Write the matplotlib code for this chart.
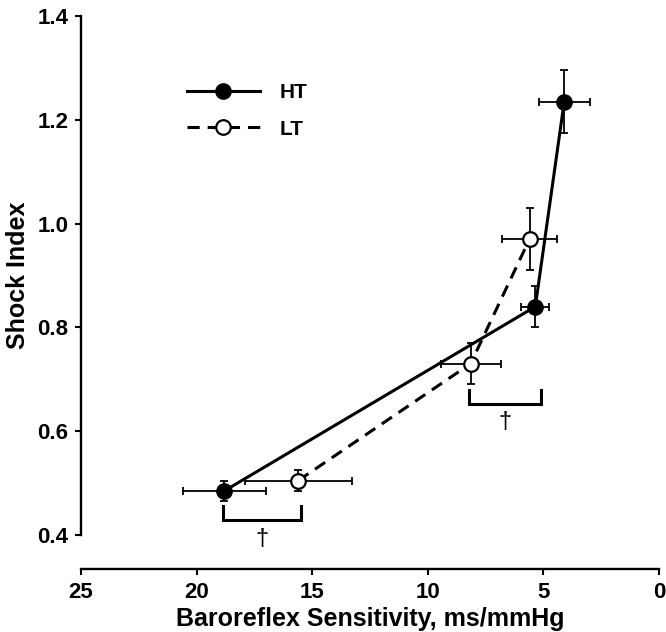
import matplotlib.pyplot as plt

plt.rcParams['font.family'] = ['Liberation Sans', 'DejaVu Sans']
plt.rcParams['font.weight'] = 'bold'

# HT group
ht_x = [18.8, 5.35, 4.1]
ht_y = [0.485, 0.84, 1.235]
ht_xerr = [1.8, 0.6, 1.1]
ht_yerr = [0.02, 0.04, 0.06]

# LT group
lt_x = [15.6, 8.15, 5.6]
lt_y = [0.505, 0.73, 0.97]
lt_xerr = [2.3, 1.3, 1.2]
lt_yerr = [0.02, 0.04, 0.06]

# significance brackets (x from, x to, y top)
brackets = [(18.85, 15.5, 0.455), (8.2, 5.1, 0.68)]
dagger_y = [0.393, 0.617]

fig = plt.figure(figsize=(6.66, 6.32), dpi=100)
ax = fig.add_axes([81/666, 1 - 569/632, 578/666, 553/632])

lw = 2.2
ax.errorbar(ht_x, ht_y, xerr=ht_xerr, yerr=ht_yerr, fmt='none', ecolor='black',
            elinewidth=1.3, capsize=3, capthick=1.3, zorder=2)
ax.errorbar(lt_x, lt_y, xerr=lt_xerr, yerr=lt_yerr, fmt='none', ecolor='black',
            elinewidth=1.3, capsize=3, capthick=1.3, zorder=2)
h1, = ax.plot(ht_x, ht_y, '-', color='black', lw=lw, marker='o', ms=11,
              mfc='black', mec='black', zorder=3, label='HT')
h2, = ax.plot(lt_x, lt_y, color='black', lw=lw, ls=(0, (4, 2.6)), marker='o', ms=10.5,
              mfc='white', mec='black', mew=1.6, zorder=3, label='LT')

for (x0, x1, yt), yd in zip(brackets, dagger_y):
    ax.plot([x0, x0, x1, x1], [yt, yt - 0.027, yt - 0.027, yt], color='black', lw=2.2,
            solid_joinstyle='miter', clip_on=False)
    ax.text((x0 + x1) / 2, yd, '\u2020', ha='center', va='center', fontsize=17,
            fontweight='normal')

ax.set_xlim(25, 0)
ax.set_ylim(0.4 - 34/519, 1.4)
ax.set_xticks([25, 20, 15, 10, 5, 0])
ax.set_yticks([0.4, 0.6, 0.8, 1.0, 1.2, 1.4])
ax.set_yticklabels(['0.4', '0.6', '0.8', '1.0', '1.2', '1.4'])
ax.spines['left'].set_bounds(0.4, 1.4)
for s in ['top', 'right']:
    ax.spines[s].set_visible(False)
for s in ['left', 'bottom']:
    ax.spines[s].set_linewidth(1.7)
ax.tick_params(direction='out', length=4, width=1.5, labelsize=16, pad=5)

ax.set_xlabel('Baroreflex Sensitivity, ms/mmHg', fontsize=18, fontweight='bold', labelpad=3)
ax.set_ylabel('Shock Index', fontsize=18, fontweight='bold')
ax.yaxis.set_label_coords(-0.088, (569 - 275) / 553)

ax.legend(handles=[h1, h2], loc='upper left', bbox_to_anchor=(0.183, 0.879),
          frameon=False, fontsize=15, handlelength=3.5, handletextpad=0.95,
          labelspacing=0.85, borderpad=0, borderaxespad=0)

fig.savefig('out.png', dpi=100)
